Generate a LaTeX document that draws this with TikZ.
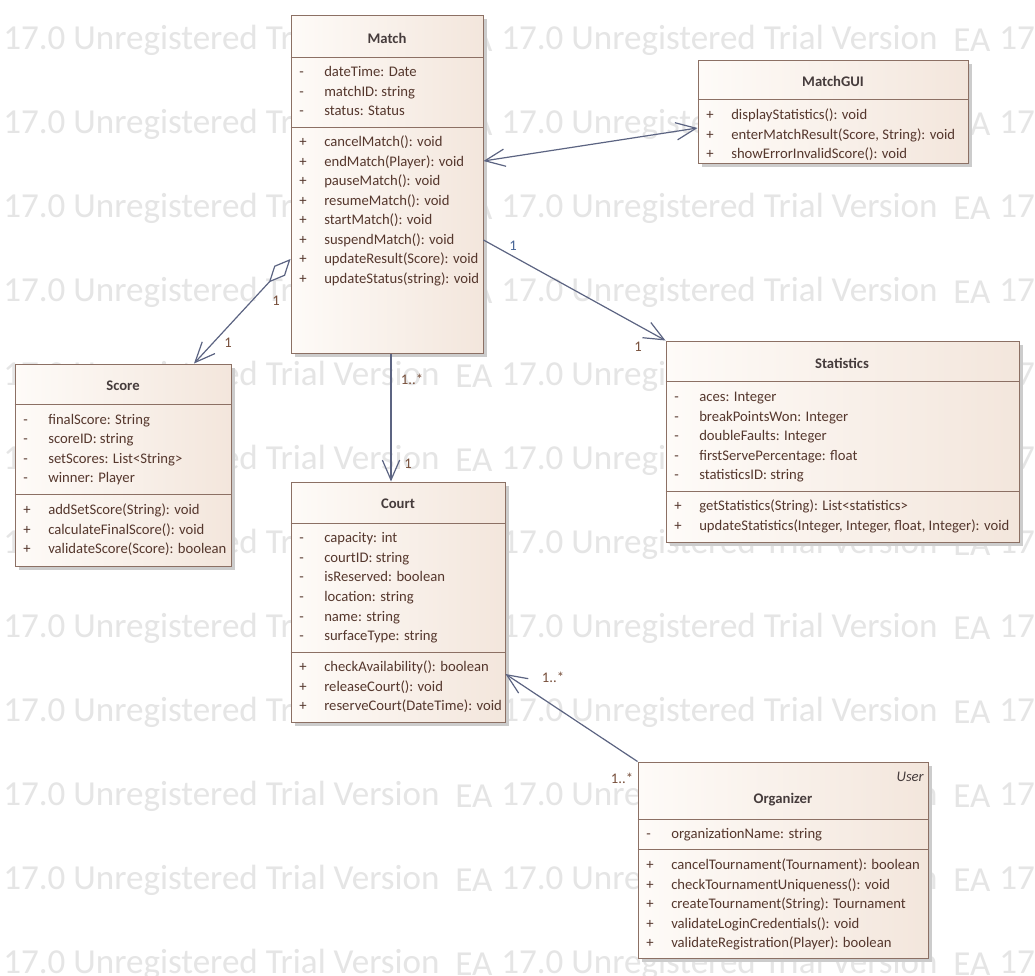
\documentclass[tikz,border=0pt]{standalone}
\usepackage{fontspec}
\setmainfont{Carlito}
\usetikzlibrary{arrows.meta,fit,shadows}

\definecolor{linkcol}{RGB}{92,100,130}
\definecolor{boxline}{RGB}{140,112,100}
\definecolor{membertxt}{RGB}{85,55,45}
\definecolor{titletxt}{RGB}{70,60,60}
\definecolor{fillL}{RGB}{254,251,248}
\definecolor{fillR}{RGB}{243,230,220}
\definecolor{multcol}{RGB}{120,80,60}
\definecolor{multblue}{RGB}{70,100,150}
\definecolor{wmcol}{RGB}{229,229,229}

\begin{document}
\begin{tikzpicture}[x=0.75pt,y=-0.75pt,
  classbox/.style={draw=boxline,line width=0.75pt,inner sep=0pt,
    left color=fillL,right color=fillR,
    general shadow={fill=black!20,shadow xshift=3pt,shadow yshift=-3pt}},
  cname/.style={inner sep=0pt,font=\bfseries\fontsize{11}{13}\selectfont,text=titletxt},
  member/.style={anchor=west,inner sep=0pt,text height=8pt,text depth=2.5pt,yshift=-1.5pt,
    font=\fontsize{11}{13}\selectfont,text=membertxt},
  priv/.style={member,execute at begin node={\makebox[18.75pt][l]{-}}},
  pub/.style={member,execute at begin node={\makebox[18.75pt][l]{+}}},
  mult/.style={inner sep=0pt,font=\fontsize{11}{13}\selectfont,text=multcol},
  link/.style={draw=linkcol,line width=0.9pt},
  nav/.style={-{Straight Barb[length=15pt,width=13pt]}},
  wmark/.style={anchor=west,inner sep=0pt,font=\fontsize{26.3}{30}\selectfont,text=wmcol}]

\fill[white] (0,0) rectangle (1035,975);
\clip (0,0) rectangle (1035,975);

% watermark
\foreach \r in {0,...,11}
  \foreach \c in {0,1,2} {
    \node[wmark] (wm-\r-\c) at ({3+498*\c},{40+84*\r}) {17.0 Unregistered Trial Version};
    \node[wmark] (ea-\r-\c) at ({455+498*\c},{40+84*\r}) {EA};
  }

% Match
\node[classbox,fit={(291,15)(483,353)}] (match) {};
\node[cname] (match-name) at (387,38) {Match};
\draw[boxline] (match.west |- 0,57) -- (match.east |- 0,57);
\draw[boxline] (match.west |- 0,127) -- (match.east |- 0,127);
\foreach \t [count=\i] in {dateTime: Date, matchID: string, status: Status}
  \node[priv] (match-a\i) at (299,{71+19.5*(\i-1)}) {\t};
\foreach \t [count=\i] in {cancelMatch(): void, endMatch(Player): void, pauseMatch(): void,
    resumeMatch(): void, startMatch(): void, suspendMatch(): void,
    updateResult(Score): void, updateStatus(string): void}
  \node[pub] (match-o\i) at (299,{141+19.5*(\i-1)}) {\t};

% MatchGUI
\node[classbox,fit={(698,60)(968,163)}] (gui) {};
\node[cname] (gui-name) at (833,81) {MatchGUI};
\draw[boxline] (gui.west |- 0,99) -- (gui.east |- 0,99);
\foreach \t [count=\i] in {displayStatistics(): void, {enterMatchResult(Score, String): void},
    showErrorInvalidScore(): void}
  \node[pub] (gui-o\i) at (706,{114+19.5*(\i-1)}) {\t};

% Score
\node[classbox,fit={(15,364)(231,566)}] (score) {};
\node[cname] (score-name) at (123,386) {Score};
\draw[boxline] (score.west |- 0,404) -- (score.east |- 0,404);
\draw[boxline] (score.west |- 0,494) -- (score.east |- 0,494);
\foreach \t [count=\i] in {finalScore: String, scoreID: string, setScores: List<String>,
    winner: Player}
  \node[priv] (score-a\i) at (23,{419+19.3*(\i-1)}) {\t};
\foreach \t [count=\i] in {addSetScore(String): void, calculateFinalScore(): void,
    validateScore(Score): boolean}
  \node[pub] (score-o\i) at (23,{509+19.5*(\i-1)}) {\t};

% Court
\node[classbox,fit={(291,482)(505,722)}] (court) {};
\node[cname] (court-name) at (398,504) {Court};
\draw[boxline] (court.west |- 0,523) -- (court.east |- 0,523);
\draw[boxline] (court.west |- 0,652) -- (court.east |- 0,652);
\foreach \t [count=\i] in {capacity: int, courtID: string, isReserved: boolean,
    location: string, name: string, surfaceType: string}
  \node[priv] (court-a\i) at (299,{537+19.6*(\i-1)}) {\t};
\foreach \t [count=\i] in {checkAvailability(): boolean, releaseCourt(): void,
    reserveCourt(DateTime): void}
  \node[pub] (court-o\i) at (299,{666+19.5*(\i-1)}) {\t};

% Statistics
\node[classbox,fit={(666,341)(1019,542)}] (stats) {};
\node[cname] (stats-name) at (842,363) {Statistics};
\draw[boxline] (stats.west |- 0,381) -- (stats.east |- 0,381);
\draw[boxline] (stats.west |- 0,491) -- (stats.east |- 0,491);
\foreach \t [count=\i] in {aces: Integer, breakPointsWon: Integer, doubleFaults: Integer,
    firstServePercentage: float, statisticsID: string}
  \node[priv] (stats-a\i) at (674,{396+19.5*(\i-1)}) {\t};
\foreach \t [count=\i] in {getStatistics(String): List<statistics>,
    {updateStatistics(Integer, Integer, float, Integer): void}}
  \node[pub] (stats-o\i) at (674,{505+19.5*(\i-1)}) {\t};

% Organizer
\node[classbox,fit={(638,762)(928,958)}] (org) {};
\node[member,anchor=east,font=\itshape\fontsize{11}{13}\selectfont,text=titletxt]
  (org-stereo) at (924,776) {User};
\node[cname] (org-name) at (783,800) {Organizer};
\draw[boxline] (org.west |- 0,819) -- (org.east |- 0,819);
\draw[boxline] (org.west |- 0,849) -- (org.east |- 0,849);
\node[priv] (org-a1) at (646,833) {organizationName: string};
\foreach \t [count=\i] in {cancelTournament(Tournament): boolean,
    checkTournamentUniqueness(): void, createTournament(String): Tournament,
    validateLoginCredentials(): void, validateRegistration(Player): boolean}
  \node[pub] (org-o\i) at (646,{864+19.5*(\i-1)}) {\t};

% associations
\draw[link,{Straight Barb[length=15pt,width=13pt]}-{Straight Barb[length=15pt,width=13pt]}]
  (match.east |- 0,161) -- (gui.west |- 0,128);
\draw[link,nav] (match.east |- 0,240) -- (stats.north west);
\draw[link,{Diamond[length=24pt,width=11pt,fill=white]}-{Straight Barb[length=15pt,width=13pt]}]
  (match.west |- 0,259) -- (score.north -| 194,0);
\draw[link,nav] (match.south -| 391,0) -- (court.north -| 391,0);
\draw[link,nav] (org.north west) -- (court.east |- 0,674);

% multiplicities
\node[mult,text=multblue] (m-stats-src) at (513,246) {1};
\node[mult] (m-stats-dst) at (638,347) {1};
\node[mult] (m-score-src) at (276,301) {1};
\node[mult] (m-score-dst) at (228,343) {1};
\node[mult] (m-court-src) at (412,379) {1..*};
\node[mult] (m-court-dst) at (408,464) {1};
\node[mult] (m-org-dst) at (553,677) {1..*};
\node[mult] (m-org-src) at (622,778) {1..*};
\end{tikzpicture}
\end{document}
